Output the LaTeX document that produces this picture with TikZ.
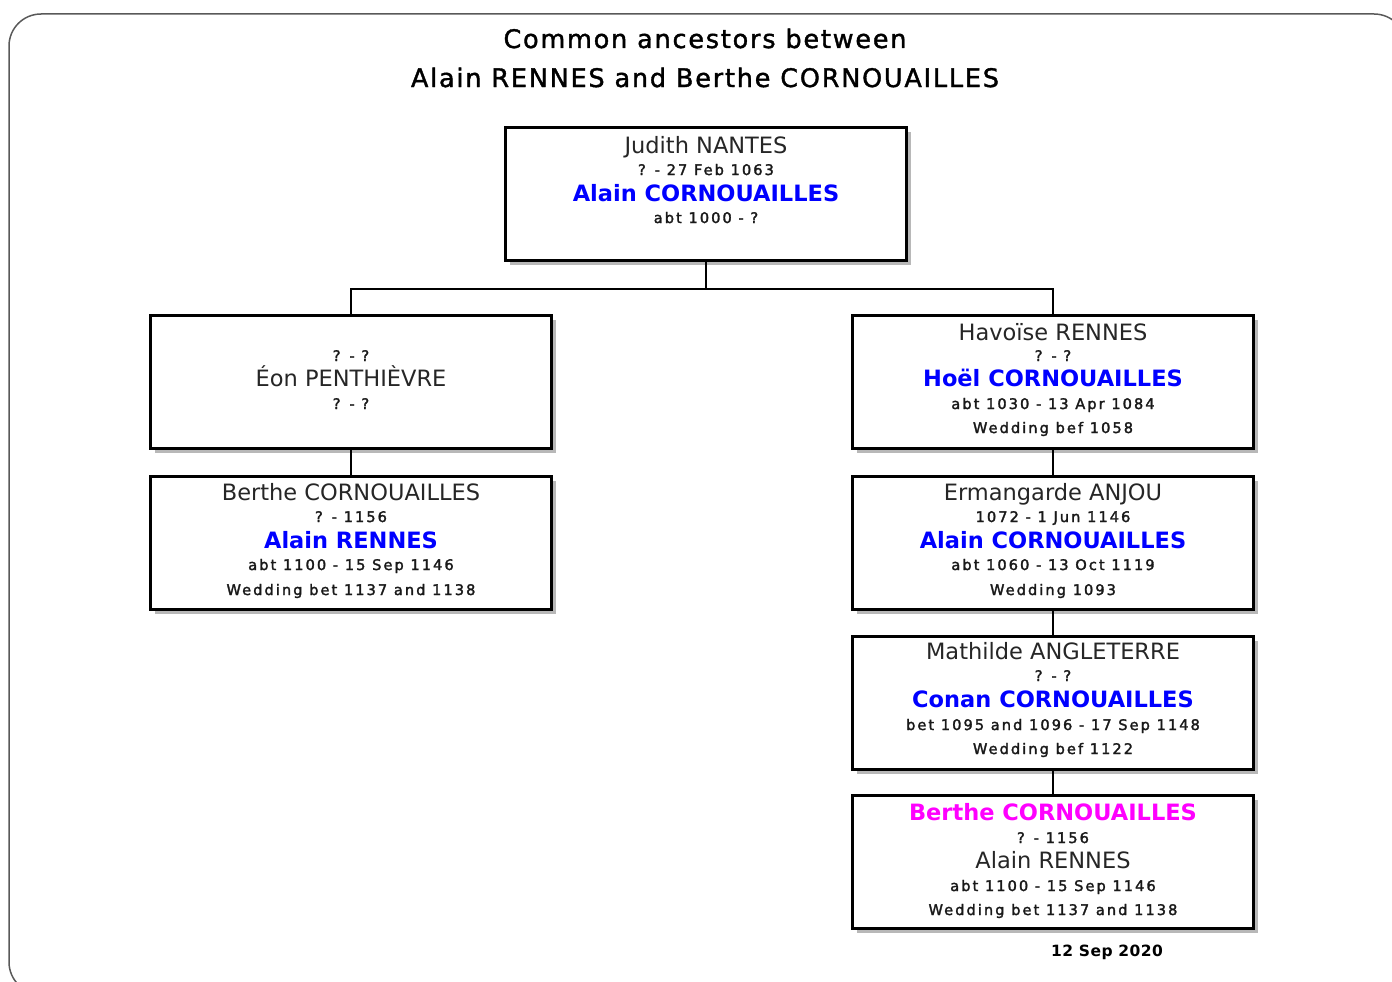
\documentclass[tikz,border=0pt]{standalone}
\usepackage{fontspec}
\setmainfont{DejaVu Sans}
\newfontfamily\namefont{DejaVu Sans}
\newfontfamily\titlefont[FakeBold=1.5,LetterSpace=7]{DejaVu Sans}
\newfontfamily\datefont[LetterSpace=14,FakeBold=2]{DejaVu Sans}
\newfontfamily\stampfont[LetterSpace=3]{DejaVu Sans Bold}
\definecolor{linkblue}{RGB}{0,0,255}
\definecolor{hilite}{RGB}{255,0,255}
\tikzset{
  person/.style={draw=black, line width=2.2pt, fill=white, minimum width=401pt, minimum height=133pt, inner sep=0pt},
  shadowbox/.style={fill=black!28, draw=none},
  nm/.style={anchor=base, inner sep=0pt, font=\namefont\fontsize{22.5}{26}\selectfont, text=black!85},
  sp/.style={anchor=base, inner sep=0pt, font=\bfseries\fontsize{22.5}{26}\selectfont, text=linkblue},
  hl/.style={anchor=base, inner sep=0pt, font=\bfseries\fontsize{22.5}{26}\selectfont, text=hilite},
  dt/.style={anchor=base, inner sep=0pt, font=\datefont\fontsize{14.6}{17}\selectfont, text=black!90},
  ttl/.style={anchor=base, inner sep=0pt, font=\titlefont\fontsize{25.5}{29}\selectfont},
  conn/.style={draw=black, line width=2.2pt},
}
\begin{document}
\begin{tikzpicture}[x=1pt,y=-1pt]
\useasboundingbox (0,0) rectangle (1392,982);
\begin{scope}
\clip (0,0) rectangle (1392,982);
\draw[black!65, line width=1.5pt, rounded corners=32pt] (9,14) rectangle (1406,994);
\end{scope}
% title
\node[ttl] (t1) at (705,48) {Common ancestors between};
\node[ttl] (t2) at (705,87) {Alain RENNES and Berthe CORNOUAILLES};
% shadows
\foreach \cx/\cy in {706/194, 351/382, 351/543, 1053/382, 1053/543, 1053/703, 1053/862}
  \fill[shadowbox] (\cx-196,\cy-62) rectangle (\cx+205,\cy+71);
% boxes
\node[person] (top) at (706,194) {};
\node[person] (l1) at (351,382) {};
\node[person] (l2) at (351,543) {};
\node[person] (r1) at (1053,382) {};
\node[person] (r2) at (1053,543) {};
\node[person] (r3) at (1053,703) {};
\node[person] (r4) at (1053,862) {};
% connectors
\coordinate (fork) at (706,289);
\draw[conn] (top.south) -- (fork);
\draw[conn] (l1.north) |- (fork) -| (r1.north);
\draw[conn] (l1.south) -- (l2.north);
\draw[conn] (r1.south) -- (r2.north);
\draw[conn] (r2.south) -- (r3.north);
\draw[conn] (r3.south) -- (r4.north);
% top
\node[nm] (topa) at (706,153) {Judith NANTES};
\node[dt] (topb) at (706,175) {? - 27 Feb 1063};
\node[sp] (topc) at (706,201) {Alain CORNOUAILLES};
\node[dt] (topd) at (706,223) {abt 1000 - ?};
% l1
\node[dt] (l1a) at (351,361) {? - ?};
\node[nm] (l1b) at (351,386) {Éon PENTHIÈVRE};
\node[dt] (l1c) at (351,409) {? - ?};
% l2
\node[nm] (l2a) at (351,500) {Berthe CORNOUAILLES};
\node[dt] (l2b) at (351,522) {? - 1156};
\node[sp] (l2c) at (351,548) {Alain RENNES};
\node[dt] (l2d) at (351,570) {abt 1100 - 15 Sep 1146};
\node[dt] (l2e) at (351,595) {Wedding bet 1137 and 1138};
% r1
\node[nm] (r1a) at (1053,340) {Havoïse RENNES};
\node[dt] (r1b) at (1053,361) {? - ?};
\node[sp] (r1c) at (1053,386) {Hoël CORNOUAILLES};
\node[dt] (r1d) at (1053,409) {abt 1030 - 13 Apr 1084};
\node[dt] (r1e) at (1053,433) {Wedding bef 1058};
% r2
\node[nm] (r2a) at (1053,500) {Ermangarde ANJOU};
\node[dt] (r2b) at (1053,522) {1072 - 1 Jun 1146};
\node[sp] (r2c) at (1053,548) {Alain CORNOUAILLES};
\node[dt] (r2d) at (1053,570) {abt 1060 - 13 Oct 1119};
\node[dt] (r2e) at (1053,595) {Wedding 1093};
% r3
\node[nm] (r3a) at (1053,659) {Mathilde ANGLETERRE};
\node[dt] (r3b) at (1053,681) {? - ?};
\node[sp] (r3c) at (1053,707) {Conan CORNOUAILLES};
\node[dt] (r3d) at (1053,730) {bet 1095 and 1096 - 17 Sep 1148};
\node[dt] (r3e) at (1053,754) {Wedding bef 1122};
% r4
\node[hl] (r4a) at (1053,820) {Berthe CORNOUAILLES};
\node[dt] (r4b) at (1053,843) {? - 1156};
\node[nm] (r4c) at (1053,868) {Alain RENNES};
\node[dt] (r4d) at (1053,891) {abt 1100 - 15 Sep 1146};
\node[dt] (r4e) at (1053,915) {Wedding bet 1137 and 1138};
% date
\node[anchor=base, inner sep=0pt, font=\stampfont\fontsize{15.5}{18}\selectfont] (stamp) at (1107,956) {12 Sep 2020};
\end{tikzpicture}
\end{document}
